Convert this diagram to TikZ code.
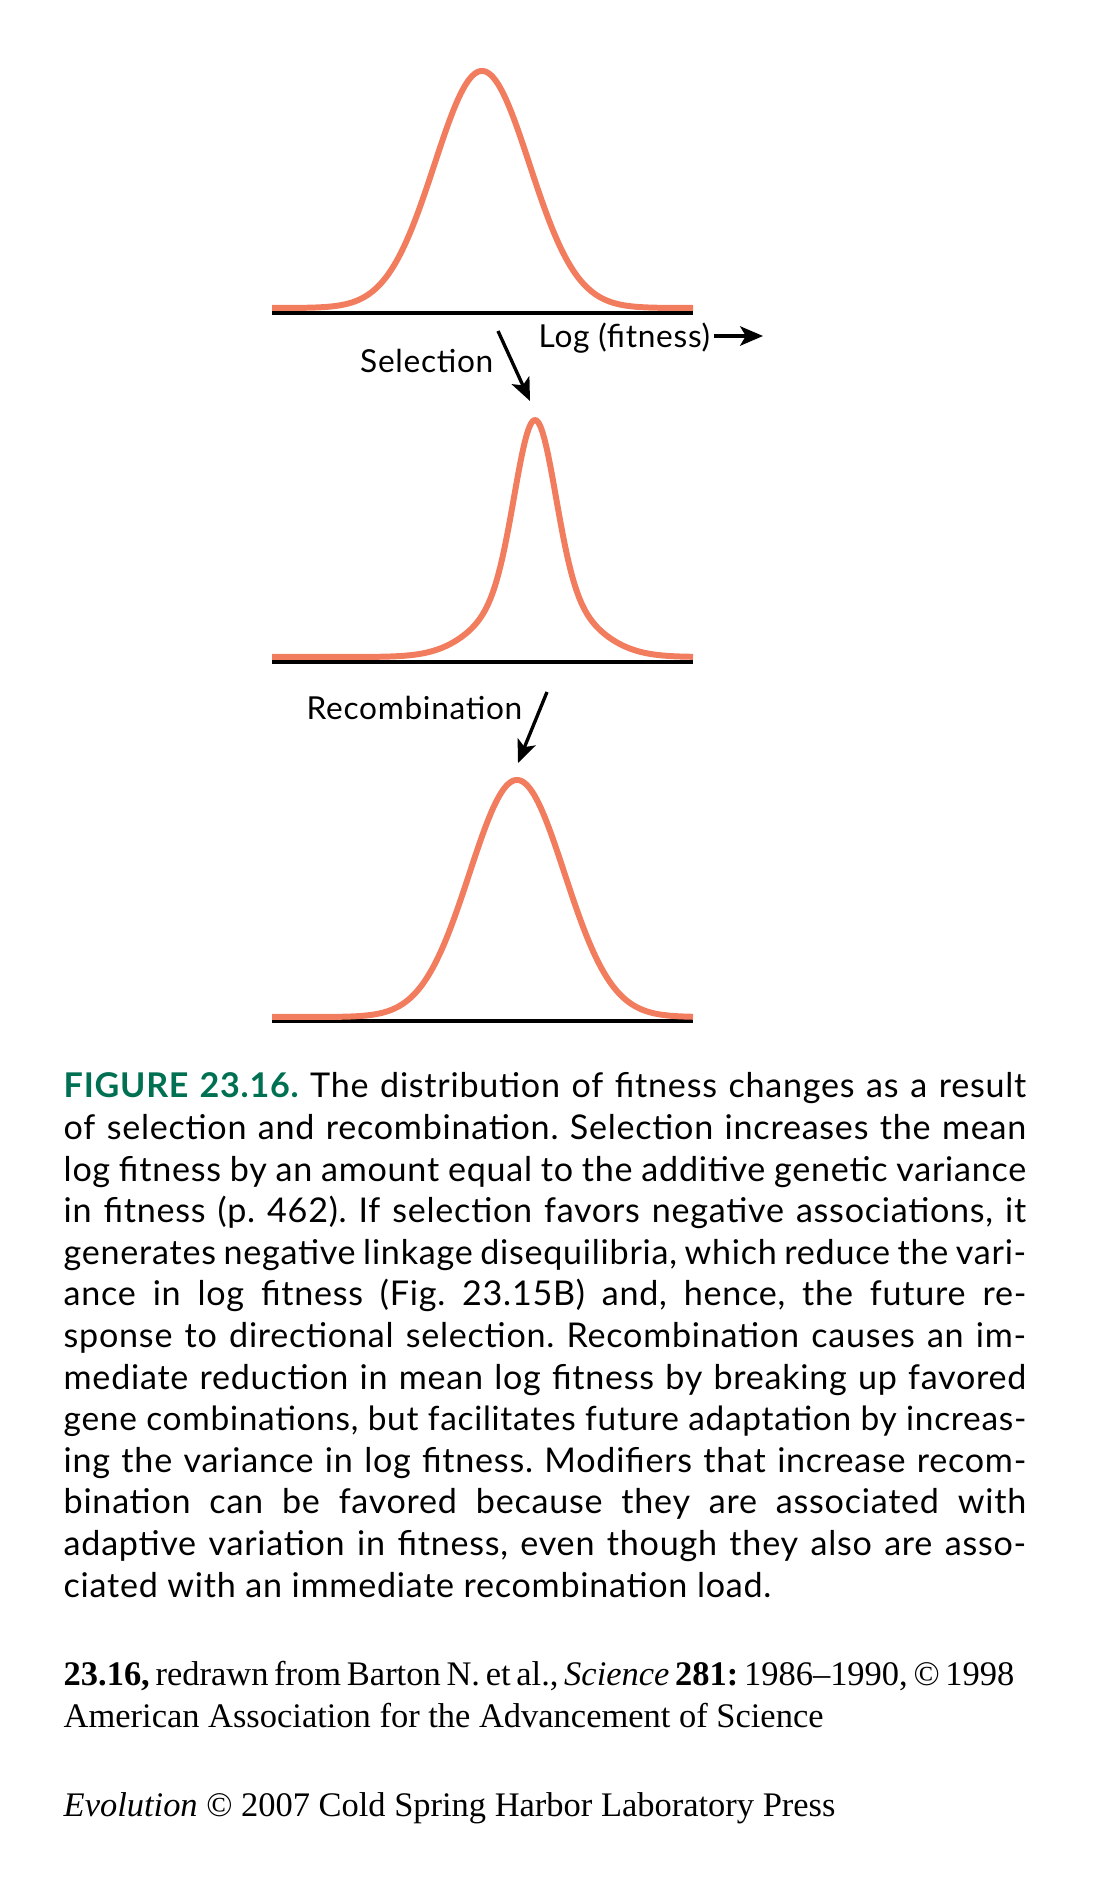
\documentclass[tikz,border=0pt]{standalone}
\usepackage{fontspec}
\setmainfont{Liberation Serif}
\setsansfont{Lato}[LetterSpace=2.2]
\usepackage{tikz}
\usetikzlibrary{arrows.meta}
\definecolor{salmon}{RGB}{242,125,94}
\definecolor{figgreen}{RGB}{0,112,82}
\tikzset{fitcurve/.style={salmon,line width=1.7pt,line join=round}}
\tikzset{baseaxis/.style={black,line width=0.95pt}}
\tikzset{arr/.style={-{Stealth[length=6.5pt,width=5.5pt,inset=1.6pt]},line width=0.95pt}}
\tikzset{lab/.style={font=\sffamily\fontsize{9}{11}\selectfont,inner sep=0pt}}
\tikzset{capt/.style={font=\sffamily\fontsize{9.7}{11.83}\selectfont,inner sep=0pt,align=left}}
\tikzset{credit/.style={font=\fontsize{9.8}{11.9}\selectfont,inner sep=0pt,align=left}}
\newcommand{\capw}{9.62cm}
\newcommand{\jline}[1]{\makebox[\capw][s]{#1}}
\frenchspacing

\begin{document}
\begin{tikzpicture}[x=0.01cm,y=-0.01cm]
  \useasboundingbox (0,0) rectangle (1098,1884);
  % before selection
  \draw[baseaxis] (272,313) -- (693,313);
  \draw[fitcurve] plot[domain=272:693,samples=211]
    (\x,{308-237*exp(max(-9,-0.5*((\x-482)/47.5)^2))});
  % after selection
  \draw[baseaxis] (272,662) -- (693,662);
  \draw[fitcurve] plot[domain=272:693,samples=211]
    (\x,{657-237*(0.7*exp(max(-9,-0.5*((\x-535)/20)^2))+0.3*exp(max(-9,-0.5*((\x-535)/46)^2)))});
  % after recombination
  \draw[baseaxis] (272,1021) -- (693,1021);
  \draw[fitcurve] plot[domain=272:693,samples=211]
    (\x,{1017-237*exp(max(-9,-0.5*((\x-517)/47.5)^2))});

  \node[lab,anchor=base east] (sel) at (494,372) {Selection};
  \node[lab,anchor=base west] (logfit) at (538,347) {Log (fitness)};
  \node[lab,anchor=base east] (recomb) at (523,719) {Recombination};
  \coordinate (selfrom) at (498,331);
  \coordinate (selto) at (530,401);
  \coordinate (logfrom) at (714,336);
  \coordinate (logto) at (763,336);
  \coordinate (recfrom) at (547,692);
  \coordinate (recto) at (518,763);
  \draw[arr] (selfrom) -- (selto);
  \draw[arr] (logfrom) -- (logto);
  \draw[arr] (recfrom) -- (recto);

  % caption: base anchor sits on the last line
  \node[capt,anchor=base west] (cap) at (63,1597) {%
    \jline{\textcolor{figgreen}{\bfseries FIGURE 23.16.} The distribution of fitness changes as a result}\\
    \jline{of selection and recombination. Selection increases the mean}\\
    \jline{log fitness by an amount equal to the additive genetic variance}\\
    \jline{in fitness (p. 462). If selection favors negative associations, it}\\
    \jline{generates negative linkage disequilibria, which reduce the vari-}\\
    \jline{ance in log fitness (Fig. 23.15B) and, hence, the future re-}\\
    \jline{sponse to directional selection. Recombination causes an im-}\\
    \jline{mediate reduction in mean log fitness by breaking up favored}\\
    \jline{\fontsize{9.5}{11.83}\selectfont gene combinations, but facilitates future adaptation by increas-}\\
    \jline{ing the variance in log fitness. Modifiers that increase recom-}\\
    \jline{bination can be favored because they are associated with}\\
    \jline{adaptive variation in fitness, even though they also are asso-}\\
    ciated with an immediate recombination load.};

  \node[credit,anchor=base west] (src) at (63,1727) {%
    \makebox[9.5cm][s]{\textbf{23.16,} redrawn from Barton N. et al., \textit{Science} \textbf{281:} 1986--1990, © 1998}\\
    American Association for the Advancement of Science};
  \node[credit,anchor=base west] (pub) at (63,1816)
    {\textit{Evolution} © 2007 Cold Spring Harbor Laboratory Press};
\end{tikzpicture}
\end{document}
